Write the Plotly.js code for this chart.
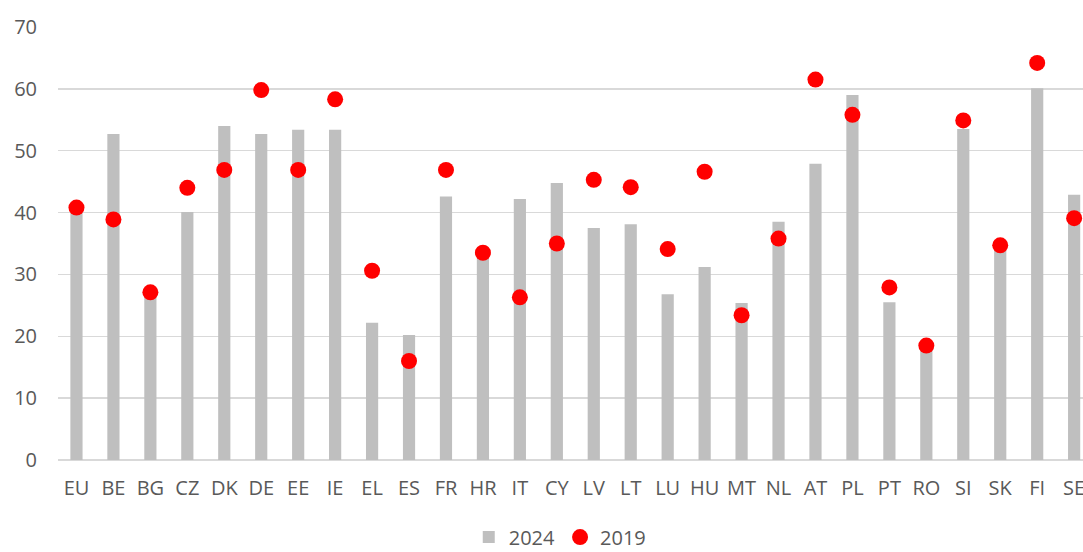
<!DOCTYPE html>
<html>
<head>
<meta charset="utf-8">
<script src="https://cdn.plot.ly/plotly-3.0.1.min.js"></script>
<style>html,body{margin:0;padding:0;background:#fff;}#chart{width:1083px;height:552px;}</style>
</head>
<body>
<div id="chart"></div>
<script>
const categories = ["EU","BE","BG","CZ","DK","DE","EE","IE","EL","ES","FR","HR","IT","CY","LV","LT","LU","HU","MT","NL","AT","PL","PT","RO","SI","SK","FI","SE"];
const values2024 = [40.0,52.7,26.5,40.1,54.0,52.7,53.4,53.4,22.2,20.2,42.6,33.0,42.2,44.8,37.5,38.1,26.8,31.2,25.4,38.5,47.9,59.0,25.5,18.0,53.5,34.0,60.1,42.9];
const values2019 = [40.8,38.9,27.1,44.0,46.9,59.8,46.9,58.3,30.6,16.0,46.9,33.5,26.3,35.0,45.3,44.1,34.1,46.6,23.4,35.8,61.5,55.8,27.9,18.5,54.9,34.7,64.2,39.1];
const yTicks = [0,10,20,30,40,50,60,70];

const font = {family: "Open Sans, Liberation Sans, sans-serif", size: 20, color: "#595959"};

const data = [
  {type: "bar", name: "2024", x: categories, y: values2024,
   marker: {color: "#bfbfbf"}, width: 0.33, hoverinfo: "x+y"},
  {type: "scatter", mode: "markers", name: "2019", x: categories, y: values2019,
   marker: {color: "#ff0000", size: 16}, cliponaxis: false}
];

const layout = {
  width: 1083, height: 552,
  margin: {l: 58, r: 0, t: 27, b: 92, autoexpand: false},
  paper_bgcolor: "#ffffff", plot_bgcolor: "#ffffff",
  font: font,
  showlegend: true,
  legend: {orientation: "h", x: 0.49, xanchor: "center", y: -0.178, yanchor: "middle",
           font: font, itemwidth: 30, traceorder: "normal"},
  xaxis: {type: "category", range: [-0.5, 27.24], showgrid: false, zeroline: false,
          showline: false, ticks: "", tickfont: font, ticklabelstandoff: 14, fixedrange: true,
          automargin: false},
  yaxis: {range: [0, 70], tickvals: yTicks, ticktext: yTicks.map(String),
          showgrid: true, gridcolor: "#d9d9d9", gridwidth: 1.5,
          zeroline: true, zerolinecolor: "#d9d9d9", zerolinewidth: 1.5,
          showline: false, ticks: "", tickfont: font, ticklabelstandoff: 20, fixedrange: true,
          automargin: false}
};

Plotly.newPlot("chart", data, layout, {displayModeBar: false, staticPlot: true});
</script>
</body>
</html>
